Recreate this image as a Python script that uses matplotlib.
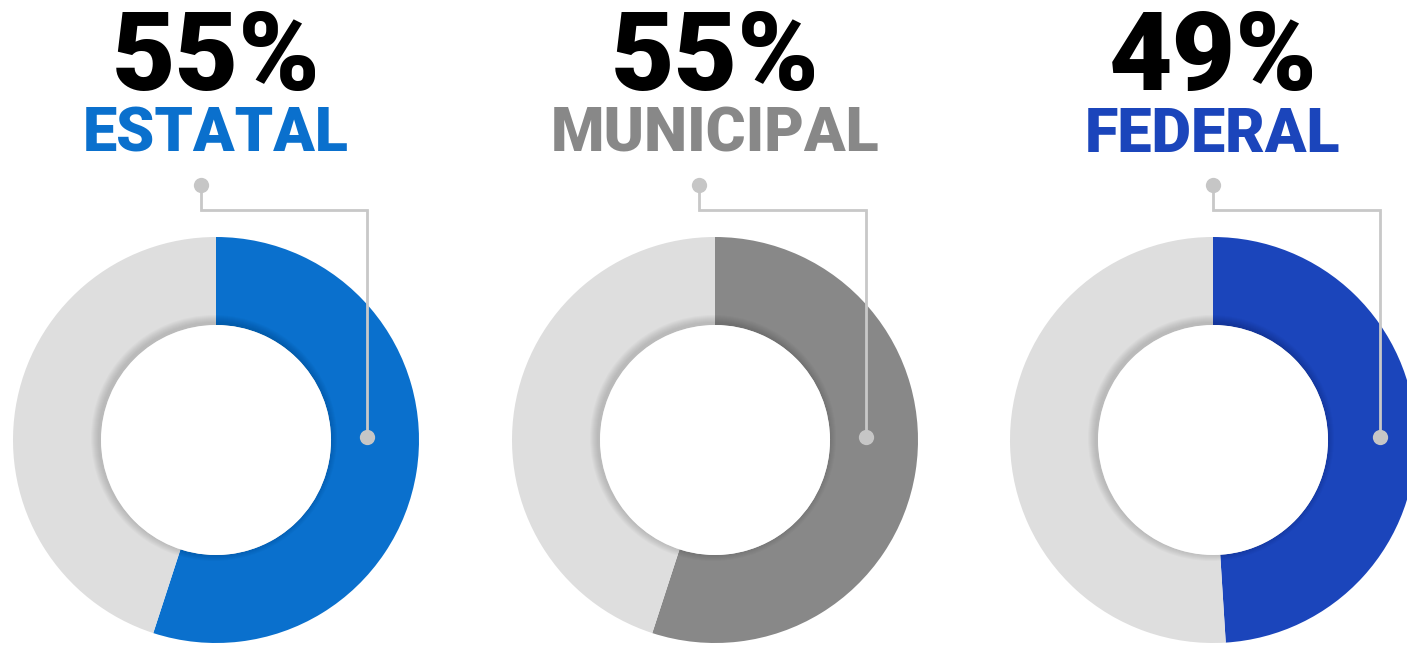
import numpy as np
import matplotlib.pyplot as plt
from matplotlib.patches import Circle

# data
labels = ["ESTATAL", "MUNICIPAL", "FEDERAL"]
values = [55, 55, 49]
colors = ["#0A70CD", "#888888", "#1B45BB"]
rest_color = "#DEDEDE"

W, H = 1407, 645
centers_x = [216, 715, 1213]
cy = H - 440
r_out = 203
r_in = 115
# leader line x positions (top dot, bottom dot)
lead_top = [201, 699, 1213]
lead_bot = [367, 866, 1380]

fig = plt.figure(figsize=(W / 100, H / 100), dpi=100)
ax = fig.add_axes([0, 0, 1, 1])

font = ["Roboto", "DejaVu Sans"]

for i, (cx, lab, val, col) in enumerate(zip(centers_x, labels, values, colors)):
    ax.pie([val, 100 - val], colors=[col, rest_color], startangle=90,
           counterclock=False, center=(cx, cy), radius=r_out,
           wedgeprops=dict(width=r_out - r_in, linewidth=0))
    # soft inner shadow around the hole
    for k in range(8):
        ax.add_patch(Circle((cx - 2, cy + 2), r_in + 8 - k, color="black",
                            alpha=0.02, lw=0, zorder=3))
    ax.add_patch(Circle((cx, cy), r_in, color="white", lw=0, zorder=4))

    # leader line
    x0, y0 = lead_top[i], H - 185
    x1, y1 = lead_bot[i], H - 437
    ax.plot([x0, x0, x1, x1], [y0, H - 210, H - 210, y1],
            color="#C8C8C8", lw=2, zorder=5, solid_joinstyle="miter")
    ax.plot([x0, x1], [y0, y1], "o", color="#C6C6C6", ms=11, mec="none", zorder=6)

    ax.text(cx, H - 60, f"{val}%", ha="center", va="center", fontsize=79,
            fontweight="black", family=font, color="black")
    ax.text(cx, H - 135, lab, ha="center", va="center", fontsize=44,
            fontweight="black", family=font, color=col)

ax.set_xlim(0, W)
ax.set_ylim(0, H)
ax.set_aspect("equal")
ax.axis("off")

fig.savefig("out.png", dpi=100, facecolor="white")
